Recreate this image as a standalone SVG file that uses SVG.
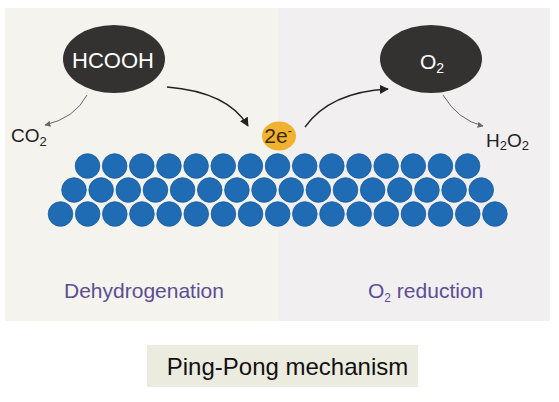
<svg xmlns="http://www.w3.org/2000/svg" width="559" height="402" viewBox="0 0 559 402">
<defs>
<style>
text{font-family:"Liberation Sans",Arial,sans-serif}
.atom{fill:#1f6cb5;stroke:#185a9c;stroke-width:0.8}
.main{fill:none;stroke:#222;stroke-width:1.3}
.side{fill:none;stroke:#666;stroke-width:1}
.mol{fill:#333231}
.lbl{fill:#222;font-size:19px}
.phase{fill:#5d4d94;font-size:21px}
</style>
<marker id="ah" viewBox="0 0 10 10" refX="9" refY="5" markerWidth="9" markerHeight="9" markerUnits="userSpaceOnUse" orient="auto">
<path d="M0,0 L10,5 L0,10 z" fill="#222"/>
</marker>
<marker id="ahs" viewBox="0 0 10 10" refX="9" refY="5" markerWidth="6" markerHeight="6" markerUnits="userSpaceOnUse" orient="auto">
<path d="M0,0 L10,5 L0,10 z" fill="#666"/>
</marker>
</defs>
<rect width="559" height="402" fill="#ffffff"/>
<g id="panels">
<rect x="5" y="8" width="273" height="313" fill="#f4f3ed"/>
<rect x="278" y="8" width="272" height="313" fill="#f2eff1"/>
</g>
<g id="connectors">
<path class="main" d="M167,87 Q228,92 248,126" marker-end="url(#ah)"/>
<path class="side" d="M87,95 Q75,118 45,125" marker-end="url(#ahs)"/>
<path class="main" d="M305,127 Q330,92 388,89" marker-end="url(#ah)"/>
<path class="side" d="M443,95 Q458,120 483,126" marker-end="url(#ahs)"/>
</g>
<g id="hcooh">
<ellipse class="mol" cx="114" cy="59" rx="51" ry="34"/>
<text x="113" y="68" fill="#fff" font-size="22" text-anchor="middle">HCOOH</text>
</g>
<g id="o2">
<ellipse class="mol" cx="431" cy="59" rx="51" ry="34"/>
<text x="432" y="69" fill="#fff" font-size="21" text-anchor="middle">O<tspan dy="4" font-size="14">2</tspan></text>
</g>
<g id="co2">
<text class="lbl" x="11" y="142" font-size="20">CO<tspan dy="4" font-size="13">2</tspan></text>
</g>
<g id="h2o2">
<text class="lbl" x="486" y="147">H<tspan dy="3" font-size="13">2</tspan><tspan dy="-3">O</tspan><tspan dy="3" font-size="13">2</tspan></text>
</g>
<g id="electrons">
<ellipse cx="279" cy="136" rx="17" ry="14.5" fill="#f1b22f"/>
<text x="278" y="143" fill="#3a2a10" font-size="21" text-anchor="middle">2e<tspan dy="-8" font-size="12">-</tspan></text>
</g>
<g id="lattice">
<circle class="atom" cx="87.5" cy="166" r="12.3"/><circle class="atom" cx="114.65" cy="166" r="12.3"/><circle class="atom" cx="141.8" cy="166" r="12.3"/><circle class="atom" cx="168.95" cy="166" r="12.3"/><circle class="atom" cx="196.1" cy="166" r="12.3"/><circle class="atom" cx="223.25" cy="166" r="12.3"/><circle class="atom" cx="250.4" cy="166" r="12.3"/><circle class="atom" cx="277.55" cy="166" r="12.3"/><circle class="atom" cx="304.7" cy="166" r="12.3"/><circle class="atom" cx="331.85" cy="166" r="12.3"/><circle class="atom" cx="359" cy="166" r="12.3"/><circle class="atom" cx="386.15" cy="166" r="12.3"/><circle class="atom" cx="413.3" cy="166" r="12.3"/><circle class="atom" cx="440.45" cy="166" r="12.3"/><circle class="atom" cx="467.6" cy="166" r="12.3"/>
<circle class="atom" cx="74" cy="190" r="12.3"/><circle class="atom" cx="101.15" cy="190" r="12.3"/><circle class="atom" cx="128.3" cy="190" r="12.3"/><circle class="atom" cx="155.45" cy="190" r="12.3"/><circle class="atom" cx="182.6" cy="190" r="12.3"/><circle class="atom" cx="209.75" cy="190" r="12.3"/><circle class="atom" cx="236.9" cy="190" r="12.3"/><circle class="atom" cx="264.05" cy="190" r="12.3"/><circle class="atom" cx="291.2" cy="190" r="12.3"/><circle class="atom" cx="318.35" cy="190" r="12.3"/><circle class="atom" cx="345.5" cy="190" r="12.3"/><circle class="atom" cx="372.65" cy="190" r="12.3"/><circle class="atom" cx="399.8" cy="190" r="12.3"/><circle class="atom" cx="426.95" cy="190" r="12.3"/><circle class="atom" cx="454.1" cy="190" r="12.3"/><circle class="atom" cx="481.25" cy="190" r="12.3"/>
<circle class="atom" cx="60.5" cy="214" r="12.3"/><circle class="atom" cx="87.65" cy="214" r="12.3"/><circle class="atom" cx="114.8" cy="214" r="12.3"/><circle class="atom" cx="141.95" cy="214" r="12.3"/><circle class="atom" cx="169.1" cy="214" r="12.3"/><circle class="atom" cx="196.25" cy="214" r="12.3"/><circle class="atom" cx="223.4" cy="214" r="12.3"/><circle class="atom" cx="250.55" cy="214" r="12.3"/><circle class="atom" cx="277.7" cy="214" r="12.3"/><circle class="atom" cx="304.85" cy="214" r="12.3"/><circle class="atom" cx="332" cy="214" r="12.3"/><circle class="atom" cx="359.15" cy="214" r="12.3"/><circle class="atom" cx="386.3" cy="214" r="12.3"/><circle class="atom" cx="413.45" cy="214" r="12.3"/><circle class="atom" cx="440.6" cy="214" r="12.3"/><circle class="atom" cx="467.75" cy="214" r="12.3"/><circle class="atom" cx="494.9" cy="214" r="12.3"/>
</g>
<g id="dehydrogenation">
<text class="phase" x="144" y="298" text-anchor="middle">Dehydrogenation</text>
</g>
<g id="o2-reduction">
<text class="phase" x="368" y="298">O<tspan dy="4" font-size="12">2</tspan><tspan dy="-4"> reduction</tspan></text>
</g>
<g id="title">
<rect x="147" y="345" width="271" height="42" fill="#ecebdf"/>
<text x="287.5" y="375" fill="#111" font-size="24" text-anchor="middle">Ping-Pong mechanism</text>
</g>
</svg>
